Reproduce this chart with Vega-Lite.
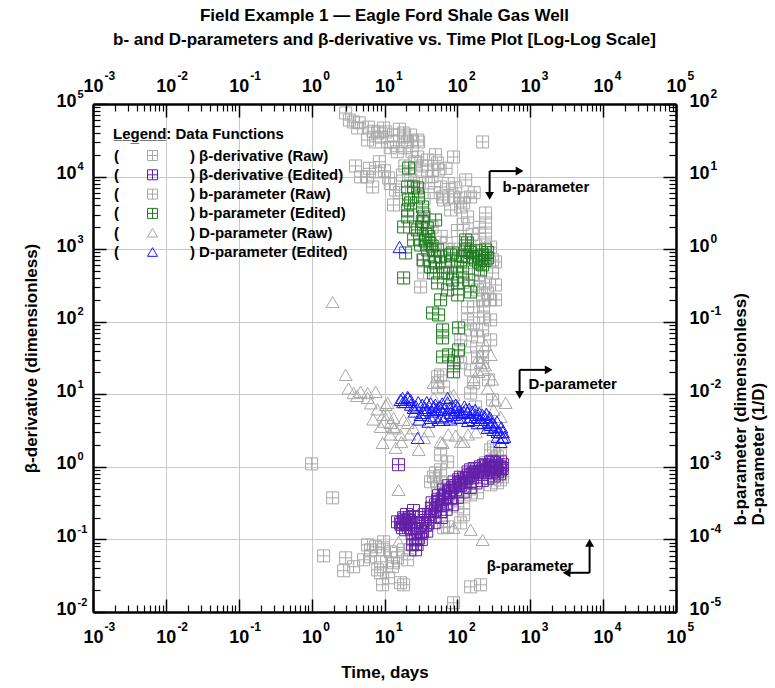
{
 "$schema": "https://vega.github.io/schema/vega-lite/v6.json",
 "width": 583, "height": 508,
 "autosize": {"type": "none"},
 "padding": {"left": 93, "top": 104, "right": 99, "bottom": 76},
 "background": "white",
 "title": {"text": ["Field Example 1 — Eagle Ford Shale Gas Well", "b- and D-parameters and β-derivative vs. Time Plot [Log-Log Scale]"], "fontSize": 17, "fontWeight": "bold", "lineHeight": 24, "offset": 20, "color": "#000", "font": "Liberation Sans", "anchor": "middle"},
 "config": {"view": {"stroke": null}, "font": "Liberation Sans", "axis": {"labelColor": "#000", "titleColor": "#000", "titleFontSize": 17, "titleFontWeight": "bold", "labelFlush": false, "labelOverlap": false, "labelBound": false}},
 "datasets": {
  "bR": [{"t":1.0,"v":1.1},{"t":1.94,"v":0.374},{"t":1.46,"v":0.0594},{"t":2.75,"v":0.037},{"t":2.93,"v":0.0558},{"t":3.77,"v":0.042},{"t":5.17,"v":0.0524},{"t":6.44,"v":0.0719},{"t":9.73,"v":0.0719},{"t":5.86,"v":0.0843},{"t":7.55,"v":0.0791},{"t":9.73,"v":0.0927},{"t":12.1,"v":0.0675},{"t":15.1,"v":0.0558},{"t":18.3,"v":0.0719},{"t":6.44,"v":0.0576},{"t":8.85,"v":0.0491},{"t":12.9,"v":0.042},{"t":8.85,"v":0.0347},{"t":11.4,"v":0.0296},{"t":9.42,"v":0.0237},{"t":18.3,"v":0.0237},{"t":8.05,"v":0.0381},{"t":152,"v":0.0222},{"t":208,"v":0.0237},{"t":88.7,"v":0.0134},{"t":58.9,"v":0.602},{"t":73.5,"v":0.319},{"t":101,"v":0.281},{"t":122,"v":0.218},{"t":73.5,"v":0.149},{"t":111,"v":0.169},{"t":392,"v":0.662},{"t":286,"v":0.565},{"t":50.3,"v":0.827},{"t":42.9,"v":0.622},{"t":58.9,"v":0.91},{"t":64.7,"v":0.145},{"t":122,"v":0.319},{"t":189,"v":0.439},{"t":356,"v":0.602},{"t":417,"v":0.728},{"t":47.2,"v":0.728},{"t":53.6,"v":0.531},{"t":58.9,"v":1.46},{"t":73.5,"v":1.17},{"t":286,"v":1.71},{"t":392,"v":1.46},{"t":13.3,"v":0.0476},{"t":20.8,"v":0.0524},{"t":22.8,"v":0.0719},{"t":25.1,"v":0.0987},{"t":16.6,"v":0.0253},{"t":244,"v":1.14},{"t":314,"v":0.91},{"t":152,"v":0.411},{"t":94.6,"v":0.482},{"t":314,"v":1.88},{"t":356,"v":1.37}],
  "bE": [{"t":15.6,"v":1.07},{"t":16.6,"v":0.169},{"t":18.3,"v":0.199},{"t":17.7,"v":0.145},{"t":19.5,"v":0.159},{"t":21.4,"v":0.186},{"t":22.8,"v":0.145},{"t":26.7,"v":0.0719},{"t":26.7,"v":0.0987},{"t":29.4,"v":0.105},{"t":31.3,"v":0.127},{"t":33.3,"v":0.127},{"t":36.6,"v":0.159},{"t":39.1,"v":0.169},{"t":42.9,"v":0.205},{"t":45.7,"v":0.24},{"t":50.3,"v":0.256},{"t":53.6,"v":0.351},{"t":58.9,"v":0.24},{"t":62.7,"v":0.3},{"t":68.9,"v":0.386},{"t":75.8,"v":0.439},{"t":80.7,"v":0.374},{"t":86.1,"v":0.514},{"t":94.6,"v":0.482},{"t":104,"v":0.662},{"t":111,"v":0.565},{"t":122,"v":0.705},{"t":130,"v":0.602},{"t":143,"v":0.776},{"t":152,"v":0.91},{"t":162,"v":0.705},{"t":178,"v":0.853},{"t":189,"v":0.827},{"t":208,"v":1.0},{"t":229,"v":0.91},{"t":244,"v":1.07},{"t":260,"v":0.827},{"t":286,"v":1.17},{"t":314,"v":1.14},{"t":334,"v":0.969},{"t":356,"v":0.853},{"t":392,"v":1.17},{"t":392,"v":0.91},{"t":417,"v":1.07},{"t":24.3,"v":0.0843},{"t":19.5,"v":0.136},{"t":15.1,"v":0.175},{"t":20,"v":0.22},{"t":25,"v":0.25},{"t":30,"v":0.2},{"t":35,"v":0.22},{"t":45,"v":0.32},{"t":55,"v":0.4},{"t":65,"v":0.48},{"t":75,"v":0.55},{"t":90,"v":0.62},{"t":110,"v":0.72},{"t":140,"v":0.85},{"t":170,"v":0.95},{"t":230,"v":1.05},{"t":270,"v":1.0},{"t":300,"v":1.2},{"t":28,"v":0.085},{"t":32,"v":0.1},{"t":38,"v":0.13},{"t":48,"v":0.17},{"t":60,"v":0.2},{"t":70,"v":0.26},{"t":85,"v":0.3},{"t":100,"v":0.38},{"t":120,"v":0.45},{"t":150,"v":0.52},{"t":180,"v":0.6},{"t":220,"v":0.65},{"t":260,"v":0.7},{"t":320,"v":0.75},{"t":380,"v":0.8},{"t":17,"v":0.16},{"t":18,"v":0.175},{"t":19,"v":0.19},{"t":20,"v":0.17},{"t":22,"v":0.2},{"t":23,"v":0.16},{"t":24,"v":0.12},{"t":26,"v":0.14},{"t":27,"v":0.17},{"t":29,"v":0.12},{"t":34,"v":0.17},{"t":40,"v":0.22},{"t":44,"v":0.27},{"t":50,"v":0.3},{"t":56,"v":0.33},{"t":62,"v":0.36},{"t":68,"v":0.42},{"t":80,"v":0.47},{"t":95,"v":0.55},{"t":105,"v":0.6},{"t":115,"v":0.62},{"t":135,"v":0.7},{"t":160,"v":0.8},{"t":200,"v":0.85},{"t":240,"v":0.9},{"t":280,"v":0.95},{"t":340,"v":1.05},{"t":380,"v":1.0},{"t":410,"v":0.95},{"t":300,"v":0.85}],
  "pR": [{"t":2.93,"v":75.2},{"t":3.77,"v":56.5},{"t":4.28,"v":46.7},{"t":5.86,"v":31.9},{"t":7.55,"v":30.0},{"t":8.05,"v":39.9},{"t":10.4,"v":41.2},{"t":9.73,"v":46.7},{"t":13.3,"v":37.4},{"t":13.3,"v":30.0},{"t":18.3,"v":39.9},{"t":18.3,"v":35.1},{"t":20.8,"v":30.0},{"t":22.8,"v":37.4},{"t":28.5,"v":31.9},{"t":29.4,"v":30.0},{"t":28.5,"v":18.6},{"t":39.1,"v":16.9},{"t":53.6,"v":15.4},{"t":55.2,"v":12.3},{"t":88.7,"v":18.6},{"t":222,"v":30.0},{"t":5.86,"v":9.89},{"t":4.7,"v":9.89},{"t":7.55,"v":11.6},{"t":6.87,"v":7.19},{"t":11.4,"v":9.57},{"t":17.7,"v":10.5},{"t":26.7,"v":12.3},{"t":39.1,"v":12.3},{"t":13.3,"v":4.06},{"t":14.2,"v":6.53},{"t":40.3,"v":8.17},{"t":58.9,"v":7.19},{"t":62.7,"v":5.23},{"t":88.7,"v":5.23},{"t":111,"v":5.07},{"t":152,"v":5.23},{"t":80.7,"v":3.47},{"t":111,"v":3.81},{"t":138,"v":2.78},{"t":244,"v":3.15},{"t":244,"v":2.29},{"t":244,"v":1.67},{"t":244,"v":1.22},{"t":64.7,"v":4.76},{"t":122,"v":4.33},{"t":31.3,"v":0.301},{"t":34.4,"v":0.47},{"t":189,"v":0.274},{"t":260,"v":0.249},{"t":229,"v":0.16},{"t":229,"v":0.116},{"t":152,"v":0.0771},{"t":189,"v":0.0618},{"t":152,"v":0.045},{"t":189,"v":0.0327},{"t":111,"v":0.0271},{"t":286,"v":1.07},{"t":304,"v":0.71},{"t":304,"v":0.47},{"t":138,"v":0.16},{"t":138,"v":0.106},{"t":111,"v":0.0561},{"t":152,"v":0.0217},{"t":167,"v":0.0144},{"t":222,"v":0.0384},{"t":222,"v":0.0271},{"t":167,"v":0.16},{"t":222,"v":0.2},{"t":167,"v":0.0962},{"t":222,"v":0.0771},{"t":53.6,"v":0.0174},{"t":64.7,"v":0.0126},{"t":53.6,"v":0.0126},{"t":101,"v":0.0327},{"t":58.9,"v":0.0185},{"t":152,"v":0.0104},{"t":178,"v":0.0067},{"t":33.3,"v":0.71},{"t":286,"v":0.2},{"t":286,"v":0.106},{"t":286,"v":0.0561},{"t":268,"v":0.0158},{"t":304,"v":0.00837},{"t":244,"v":0.342},{"t":195,"v":0.441},{"t":334,"v":0.321},{"t":334,"v":0.2},{"t":334,"v":0.667},{"t":45,"v":2.0},{"t":60,"v":1.5},{"t":70,"v":1.2},{"t":90,"v":1.0},{"t":100,"v":1.8},{"t":120,"v":2.2},{"t":160,"v":1.6},{"t":180,"v":1.1},{"t":200,"v":2.0},{"t":35,"v":3.0},{"t":50,"v":1.0},{"t":80,"v":0.6},{"t":120,"v":0.35},{"t":160,"v":0.45},{"t":200,"v":0.3},{"t":3.3,"v":60},{"t":4.5,"v":55},{"t":6,"v":48},{"t":7,"v":42},{"t":9,"v":35},{"t":11,"v":30},{"t":12,"v":25},{"t":15,"v":22},{"t":16,"v":45},{"t":19,"v":25},{"t":24,"v":22},{"t":26,"v":16},{"t":33,"v":14},{"t":45,"v":10},{"t":50,"v":20},{"t":70,"v":13},{"t":4,"v":14},{"t":6.2,"v":13},{"t":8.5,"v":16},{"t":10,"v":12},{"t":12,"v":8},{"t":16,"v":6},{"t":19,"v":14},{"t":23,"v":9},{"t":30,"v":8},{"t":35,"v":5},{"t":48,"v":6},{"t":75,"v":8},{"t":95,"v":7},{"t":130,"v":9},{"t":170,"v":6}],
  "pE": [{"t":21.4,"v":13.1},{"t":20.8,"v":7.19},{"t":25.1,"v":7.19},{"t":28.5,"v":6.97},{"t":29.4,"v":5.23},{"t":21.4,"v":4.76},{"t":22.8,"v":4.33},{"t":20.8,"v":3.47},{"t":33.3,"v":3.81},{"t":34.4,"v":2.78},{"t":20.8,"v":2.78},{"t":50.3,"v":2.52},{"t":18.3,"v":2.02},{"t":26.7,"v":2.02},{"t":39.1,"v":1.96},{"t":130,"v":1.34},{"t":138,"v":1.22},{"t":19.5,"v":0.887},{"t":18.3,"v":0.401},{"t":39.1,"v":0.975},{"t":53.6,"v":0.975},{"t":80.7,"v":0.832},{"t":86.1,"v":0.887},{"t":58.9,"v":0.782},{"t":130,"v":0.975},{"t":222,"v":0.832},{"t":222,"v":0.606},{"t":178,"v":0.71},{"t":138,"v":0.782},{"t":42.9,"v":0.569},{"t":50.3,"v":0.646},{"t":64.7,"v":0.47},{"t":47.2,"v":0.47},{"t":101,"v":0.569},{"t":53.6,"v":0.342},{"t":73.5,"v":0.47},{"t":101,"v":0.342},{"t":143,"v":0.376},{"t":152,"v":0.257},{"t":101,"v":0.234},{"t":73.5,"v":0.274},{"t":58.9,"v":0.2},{"t":45.7,"v":0.132},{"t":55.2,"v":0.124},{"t":104,"v":0.0822},{"t":62.7,"v":0.0771},{"t":62.7,"v":0.0598},{"t":104,"v":0.0409},{"t":75.8,"v":0.0349},{"t":62.7,"v":0.0327},{"t":88.7,"v":0.0271},{"t":88.7,"v":0.0204},{"t":111,"v":0.667},{"t":162,"v":0.757},{"t":195,"v":0.667},{"t":244,"v":0.975},{"t":260,"v":0.757},{"t":208,"v":0.517},{"t":118,"v":0.485},{"t":86.1,"v":0.376},{"t":68.9,"v":0.667},{"t":25.1,"v":1.34},{"t":31.3,"v":1.14},{"t":34.4,"v":0.71},{"t":28.5,"v":1.84},{"t":36,"v":1.3},{"t":45,"v":1.1},{"t":40,"v":1.5},{"t":37,"v":1.6},{"t":42,"v":1.2},{"t":48,"v":0.8},{"t":33,"v":2.4},{"t":150,"v":0.9},{"t":180,"v":0.95},{"t":200,"v":0.8},{"t":240,"v":0.7},{"t":260,"v":0.9},{"t":120,"v":0.8}],
  "dR": [{"t":1.94,"v":0.187},{"t":2.93,"v":0.0185},{"t":3.77,"v":0.0104},{"t":4.7,"v":0.0108},{"t":5.86,"v":0.00891},{"t":7.55,"v":0.0108},{"t":10.4,"v":0.00714},{"t":11.0,"v":0.0052},{"t":8.85,"v":0.00356},{"t":13.3,"v":0.00356},{"t":16.6,"v":0.00276},{"t":9.42,"v":0.00214},{"t":14.2,"v":0.00183},{"t":29.4,"v":0.00171},{"t":20.8,"v":0.00404},{"t":47.2,"v":0.00891},{"t":88.7,"v":0.00982},{"t":62.7,"v":0.00214},{"t":122,"v":0.00221},{"t":286,"v":0.00356},{"t":459,"v":0.00762},{"t":392,"v":0.00489},{"t":229,"v":0.0217},{"t":47.2,"v":0.0144},{"t":13.3,"v":0.00473},{"t":5.86,"v":0.0104},{"t":9.73,"v":0.0052},{"t":12.1,"v":0.00404},{"t":18.3,"v":0.00444},{"t":58.9,"v":0.00221},{"t":111,"v":0.00221},{"t":80.7,"v":0.00921},{"t":55.2,"v":0.0144},{"t":195,"v":0.0204},{"t":314,"v":0.0061},{"t":15.6,"v":0.000482},{"t":15.6,"v":0.0000927},{"t":88.7,"v":0.000145},{"t":152,"v":0.000136},{"t":222,"v":0.0000987},{"t":167,"v":0.0158},{"t":208,"v":0.0271},{"t":244,"v":0.0479},{"t":286,"v":0.0349},{"t":195,"v":0.0317},{"t":11.0,"v":0.00762},{"t":3.2,"v":0.012},{"t":4.2,"v":0.0095},{"t":6.5,"v":0.0075},{"t":7,"v":0.0045},{"t":8,"v":0.0062},{"t":10,"v":0.0042},{"t":12,"v":0.0028},{"t":14,"v":0.0034},{"t":17,"v":0.0022},{"t":22,"v":0.0028},{"t":25,"v":0.0034},{"t":35,"v":0.0025},{"t":40,"v":0.0031},{"t":75,"v":0.0028},{"t":95,"v":0.0027},{"t":140,"v":0.0028},{"t":180,"v":0.003},{"t":250,"v":0.0052},{"t":330,"v":0.0082},{"t":260,"v":0.012},{"t":300,"v":0.016},{"t":240,"v":0.025}],
  "dE": [{"t":16.1,"v":1.07},{"t":17.7,"v":0.00891},{"t":16.6,"v":0.00837},{"t":20.8,"v":0.00921},{"t":25.1,"v":0.0065},{"t":28.5,"v":0.00251},{"t":34.4,"v":0.00555},{"t":39.1,"v":0.0061},{"t":47.2,"v":0.0067},{"t":55.2,"v":0.00444},{"t":73.5,"v":0.00762},{"t":73.5,"v":0.00891},{"t":80.7,"v":0.00555},{"t":101,"v":0.0067},{"t":122,"v":0.00572},{"t":152,"v":0.00489},{"t":189,"v":0.00473},{"t":229,"v":0.00404},{"t":286,"v":0.00379},{"t":356,"v":0.00303},{"t":417,"v":0.00251},{"t":356,"v":0.00259},{"t":392,"v":0.00221},{"t":31.3,"v":0.0052},{"t":42.9,"v":0.00473},{"t":58.9,"v":0.0061},{"t":94.6,"v":0.0061},{"t":64.7,"v":0.00444},{"t":111,"v":0.00473},{"t":138,"v":0.00555},{"t":167,"v":0.00444},{"t":208,"v":0.00444},{"t":260,"v":0.00344},{"t":314,"v":0.00323},{"t":22.8,"v":0.00837},{"t":19.5,"v":0.00786},{"t":36,"v":0.0065},{"t":45,"v":0.0058},{"t":50,"v":0.0072},{"t":62,"v":0.0075},{"t":85,"v":0.0068},{"t":90,"v":0.0052},{"t":130,"v":0.0062},{"t":160,"v":0.0058},{"t":180,"v":0.0052},{"t":240,"v":0.0048},{"t":270,"v":0.0042},{"t":300,"v":0.004},{"t":330,"v":0.0036},{"t":380,"v":0.003},{"t":26,"v":0.0058},{"t":30,"v":0.0045},{"t":40,"v":0.0042},{"t":48,"v":0.005},{"t":70,"v":0.005},{"t":115,"v":0.0055},{"t":18,"v":0.0078},{"t":21,"v":0.0088},{"t":23,"v":0.0072},{"t":27,"v":0.0068},{"t":29,"v":0.0078},{"t":33,"v":0.0072},{"t":38,"v":0.0078},{"t":43,"v":0.0075},{"t":52,"v":0.0062},{"t":57,"v":0.0068},{"t":66,"v":0.0062},{"t":78,"v":0.0065},{"t":95,"v":0.0072},{"t":105,"v":0.0058},{"t":125,"v":0.0068},{"t":145,"v":0.0063},{"t":175,"v":0.0061},{"t":200,"v":0.0055},{"t":220,"v":0.0052},{"t":250,"v":0.0054},{"t":280,"v":0.0048},{"t":350,"v":0.0042},{"t":420,"v":0.003},{"t":440,"v":0.0026},{"t":400,"v":0.0035},{"t":60,"v":0.0048},{"t":80,"v":0.0045},{"t":100,"v":0.0048},{"t":140,"v":0.0043},{"t":190,"v":0.004}],
  "notes": [{"t":417,"v":7190,"txt":"b-parameter"},{"t":949,"v":13.9,"txt":"D-parameter"},{"t":252,"v":0.0433,"txt":"β-parameter"}],
  "arrows": [{"t":277,"v":11900,"t2":714,"v2":11900},{"t":277,"v":11900,"t2":277,"v2":5410},{"t":714,"v":21.7,"t2":1790,"v2":21.7},{"t":714,"v":21.7,"t2":714,"v2":9.82},{"t":6520,"v":0.0347,"t2":3150,"v2":0.0347},{"t":6520,"v":0.0347,"t2":6520,"v2":0.0898}],
  "heads": [{"t":714,"v":11900,"dir":"right"},{"t":277,"v":5410,"dir":"down"},{"t":1790,"v":21.7,"dir":"right"},{"t":714,"v":9.82,"dir":"down"},{"t":3150,"v":0.0347,"dir":"left"},{"t":6520,"v":0.0898,"dir":"up"}]
 },
 "resolve": {"scale": {"y": "independent"}, "axis": {"x": "independent", "y": "independent"}},
 "layer": [
  {"data": {"name": "bR"}, "mark": {"type": "point", "filled": false, "size": 144, "strokeWidth": 1, "opacity": 1},
   "encoding": {
    "x": {"field": "t", "type": "quantitative", "scale": {"type": "log", "domain": [0.001, 100000], "nice": false},
      "axis": {"orient": "bottom", "values": [0.001,0.01,0.1,1,10,100,1000,10000,100000], "labels": false, "grid": false, "domain": true, "domainColor": "#000", "domainWidth": 2.5, "ticks": true, "tickColor": "#000", "tickWidth": 1.5, "tickSize": -13, "title": null, "zindex": 2}},
    "y": {"field": "v", "type": "quantitative", "scale": {"type": "log", "domain": [0.01, 100000], "nice": false},
      "axis": {"orient": "left", "values": [0.01,0.1,1,10,100,1000,10000,100000], "labels": false, "grid": false, "domain": true, "domainColor": "#000", "domainWidth": 2.5, "ticks": true, "tickColor": "#000", "tickWidth": 1.5, "tickSize": -13, "title": null, "zindex": 2}},
    "color": {"datum": "β-derivative (Raw)", "scale": {"domain": ["β-derivative (Raw)","β-derivative (Edited)","b-parameter (Raw)","b-parameter (Edited)","D-parameter (Raw)","D-parameter (Edited)"], "range": ["#a8a8a8","#6420a8","#a8a8a8","#1e7b1e","#a8a8a8","#1616ff"]},
      "legend": {"orient": "none", "legendX": 20, "legendY": 23, "padding": 0, "title": "L\u0332e\u0332g\u0332e\u0332n\u0332d\u0332: Data Functions", "titleFontSize": 15, "titleFontWeight": "bold", "titleColor": "#000", "titlePadding": 6, "titleAnchor": "start", "labelFontSize": 15, "labelFontWeight": "bold", "labelColor": "#000", "labelLimit": 400, "symbolSize": 100, "symbolStrokeWidth": 1, "symbolOffset": 32, "labelOffset": -46, "rowPadding": 3.3, "labelExpr": "'(\u2007\u2007\u2007\u2007\u2007\u2007\u2007\u2007\u00a0) ' + datum.label"}},
    "shape": {"datum": "β-derivative (Raw)", "scale": {"domain": ["β-derivative (Raw)","β-derivative (Edited)","b-parameter (Raw)","b-parameter (Edited)","D-parameter (Raw)","D-parameter (Edited)"], "range": ["M-1,-1H1V1H-1Z M0,-1V1 M-1,0H1","M-1,-1H1V1H-1Z M0,-1V1 M-1,0H1","M-1,-1H1V1H-1Z M0,-1V1 M-1,0H1","M-1,-1H1V1H-1Z M0,-1V1 M-1,0H1","triangle-up","triangle-up"]},
      "legend": {"orient": "none", "legendX": 20, "legendY": 23, "padding": 0, "title": "L\u0332e\u0332g\u0332e\u0332n\u0332d\u0332: Data Functions", "titleFontSize": 15, "titleFontWeight": "bold", "titleColor": "#000", "titlePadding": 6, "titleAnchor": "start", "labelFontSize": 15, "labelFontWeight": "bold", "labelColor": "#000", "labelLimit": 400, "symbolSize": 100, "symbolStrokeWidth": 1, "symbolOffset": 32, "labelOffset": -46, "rowPadding": 3.3, "labelExpr": "'(\u2007\u2007\u2007\u2007\u2007\u2007\u2007\u2007\u00a0) ' + datum.label"}}
   }},
  {"data": {"name": "pR"}, "mark": {"type": "point", "filled": false, "size": 144, "strokeWidth": 1, "opacity": 1},
   "encoding": {
    "x": {"field": "t", "type": "quantitative", "scale": {"type": "log", "domain": [0.001, 100000], "nice": false},
      "axis": {"orient": "top", "values": [0.001,0.01,0.1,1,10,100,1000,10000,100000], "labels": false, "grid": false, "domain": true, "domainColor": "#000", "domainWidth": 2.5, "ticks": true, "tickColor": "#000", "tickWidth": 1.5, "tickSize": -13, "title": null, "zindex": 2}},
    "y": {"field": "v", "type": "quantitative", "scale": {"type": "log", "domain": [0.00001, 100], "nice": false},
      "axis": {"orient": "right", "values": [0.00001,0.0001,0.001,0.01,0.1,1,10,100], "labels": false, "grid": false, "domain": true, "domainColor": "#000", "domainWidth": 2.5, "ticks": true, "tickColor": "#000", "tickWidth": 1.5, "tickSize": -13, "title": null, "zindex": 2}},
    "color": {"datum": "b-parameter (Raw)"},
    "shape": {"datum": "b-parameter (Raw)"}
   }},
  {"data": {"name": "dR"}, "mark": {"type": "point", "filled": false, "size": 169, "strokeWidth": 1, "opacity": 1},
   "encoding": {
    "x": {"field": "t", "type": "quantitative", "scale": {"type": "log", "domain": [0.001, 100000], "nice": false}, "axis": null},
    "y": {"field": "v", "type": "quantitative", "scale": {"type": "log", "domain": [0.00001, 100], "nice": false}, "axis": null},
    "color": {"datum": "D-parameter (Raw)"},
    "shape": {"datum": "D-parameter (Raw)"}
   }},
  {"data": {"name": "bE"}, "mark": {"type": "point", "filled": false, "size": 144, "strokeWidth": 1, "opacity": 1},
   "encoding": {
    "x": {"field": "t", "type": "quantitative", "scale": {"type": "log", "domain": [0.001, 100000], "nice": false},
      "axis": {"orient": "bottom", "values": [0.002,0.003,0.004,0.005,0.006,0.007,0.008,0.009,0.02,0.03,0.04,0.05,0.06,0.07,0.08,0.09,0.2,0.3,0.4,0.5,0.6,0.7,0.8,0.9,2,3,4,5,6,7,8,9,20,30,40,50,60,70,80,90,200,300,400,500,600,700,800,900,2000,3000,4000,5000,6000,7000,8000,9000,20000,30000,40000,50000,60000,70000,80000,90000], "labels": false, "grid": false, "domain": false, "ticks": true, "tickColor": "#000", "tickWidth": 1.2, "tickSize": -7, "title": null, "zindex": 2}},
    "y": {"field": "v", "type": "quantitative", "scale": {"type": "log", "domain": [0.01, 100000], "nice": false},
      "axis": {"orient": "left", "values": [0.02,0.03,0.04,0.05,0.06,0.07,0.08,0.09,0.2,0.3,0.4,0.5,0.6,0.7,0.8,0.9,2,3,4,5,6,7,8,9,20,30,40,50,60,70,80,90,200,300,400,500,600,700,800,900,2000,3000,4000,5000,6000,7000,8000,9000,20000,30000,40000,50000,60000,70000,80000,90000], "labels": false, "grid": false, "domain": false, "ticks": true, "tickColor": "#000", "tickWidth": 1.2, "tickSize": -7, "title": null, "zindex": 2}},
    "color": {"datum": "β-derivative (Edited)"},
    "shape": {"datum": "β-derivative (Edited)"}
   }},
  {"data": {"name": "pE"}, "mark": {"type": "point", "filled": false, "size": 144, "strokeWidth": 1, "opacity": 1},
   "encoding": {
    "x": {"field": "t", "type": "quantitative", "scale": {"type": "log", "domain": [0.001, 100000], "nice": false},
      "axis": {"orient": "top", "values": [0.002,0.003,0.004,0.005,0.006,0.007,0.008,0.009,0.02,0.03,0.04,0.05,0.06,0.07,0.08,0.09,0.2,0.3,0.4,0.5,0.6,0.7,0.8,0.9,2,3,4,5,6,7,8,9,20,30,40,50,60,70,80,90,200,300,400,500,600,700,800,900,2000,3000,4000,5000,6000,7000,8000,9000,20000,30000,40000,50000,60000,70000,80000,90000], "labels": false, "grid": false, "domain": false, "ticks": true, "tickColor": "#000", "tickWidth": 1.2, "tickSize": -7, "title": null, "zindex": 2}},
    "y": {"field": "v", "type": "quantitative", "scale": {"type": "log", "domain": [0.00001, 100], "nice": false},
      "axis": {"orient": "right", "values": [0.00002,0.00003,0.00004,0.00005,0.00006,0.00007,0.00008,0.00009,0.0002,0.0003,0.0004,0.0005,0.0006,0.0007,0.0008,0.0009,0.002,0.003,0.004,0.005,0.006,0.007,0.008,0.009,0.02,0.03,0.04,0.05,0.06,0.07,0.08,0.09,0.2,0.3,0.4,0.5,0.6,0.7,0.8,0.9,2,3,4,5,6,7,8,9,20,30,40,50,60,70,80,90], "labels": false, "grid": false, "domain": false, "ticks": true, "tickColor": "#000", "tickWidth": 1.2, "tickSize": -7, "title": null, "zindex": 2}},
    "color": {"datum": "b-parameter (Edited)"},
    "shape": {"datum": "b-parameter (Edited)"}
   }},
  {"data": {"name": "dE"}, "mark": {"type": "point", "filled": false, "size": 169, "strokeWidth": 1, "opacity": 1},
   "encoding": {
    "x": {"field": "t", "type": "quantitative", "scale": {"type": "log", "domain": [0.001, 100000], "nice": false}, "axis": null},
    "y": {"field": "v", "type": "quantitative", "scale": {"type": "log", "domain": [0.00001, 100], "nice": false}, "axis": null},
    "color": {"datum": "D-parameter (Edited)"},
    "shape": {"datum": "D-parameter (Edited)"}
   }},
  {"data": {"name": "bR"}, "mark": {"type": "point", "opacity": 0},
   "encoding": {
    "x": {"field": "t", "type": "quantitative", "scale": {"type": "log", "domain": [0.001, 100000], "nice": false},
      "axis": {"orient": "bottom", "values": [0.001,0.01,0.1,1,10,100,1000,10000,100000], "labelExpr": "'10'", "labelFontSize": 18, "labelFontWeight": "bold", "labelBaseline": "middle", "labelAlign": "center", "labelPadding": 25, "ticks": false, "domain": false, "grid": true, "gridColor": "#c8c8c8", "gridWidth": 1, "title": "Time, days", "titleFontSize": 17, "titleFontWeight": "bold", "titleY": 60, "titleBaseline": "middle", "zindex": 0}},
    "y": {"field": "v", "type": "quantitative", "scale": {"type": "log", "domain": [0.01, 100000], "nice": false},
      "axis": {"orient": "left", "values": [0.01,0.1,1,10,100,1000,10000,100000], "labelExpr": "'10'", "labelFontSize": 18, "labelFontWeight": "bold", "labelBaseline": "middle", "labelAlign": "right", "labelPadding": 17, "labelOffset": -3, "ticks": false, "domain": false, "grid": true, "gridColor": "#c8c8c8", "gridWidth": 1, "title": "β-derivative (dimensionless)", "titleFontSize": 17, "titleFontWeight": "bold", "titleX": -62, "titleY": 254, "titleAngle": 270, "titleBaseline": "middle", "titleAlign": "center", "zindex": 0}}
   }},
  {"data": {"name": "bR"}, "mark": {"type": "point", "opacity": 0},
   "encoding": {
    "x": {"field": "t", "type": "quantitative", "scale": {"type": "log", "domain": [0.001, 100000], "nice": false},
      "axis": {"orient": "bottom", "values": [0.001,0.01,0.1,1,10,100,1000,10000,100000], "labelExpr": "'' + round(log(datum.value)/LN10)", "labelFontSize": 12, "labelFontWeight": "bold", "labelBaseline": "middle", "labelAlign": "left", "labelPadding": 14, "labelOffset": 11, "ticks": false, "domain": false, "grid": false, "title": null, "zindex": 0}},
    "y": {"field": "v", "type": "quantitative", "scale": {"type": "log", "domain": [0.01, 100000], "nice": false},
      "axis": {"orient": "left", "values": [0.01,0.1,1,10,100,1000,10000,100000], "labelExpr": "'' + round(log(datum.value)/LN10)", "labelFontSize": 11, "labelFontWeight": "bold", "labelBaseline": "middle", "labelAlign": "left", "labelPadding": 16, "labelOffset": -10, "ticks": false, "domain": false, "grid": false, "title": null, "zindex": 0}}
   }},
  {"data": {"name": "pR"}, "mark": {"type": "point", "opacity": 0},
   "encoding": {
    "x": {"field": "t", "type": "quantitative", "scale": {"type": "log", "domain": [0.001, 100000], "nice": false},
      "axis": {"orient": "top", "values": [0.001,0.01,0.1,1,10,100,1000,10000,100000], "labelExpr": "'10'", "labelFontSize": 18, "labelFontWeight": "bold", "labelBaseline": "middle", "labelAlign": "center", "labelPadding": 18, "ticks": false, "domain": false, "grid": false, "title": null, "zindex": 0}},
    "y": {"field": "v", "type": "quantitative", "scale": {"type": "log", "domain": [0.00001, 100], "nice": false},
      "axis": {"orient": "right", "values": [0.00001,0.0001,0.001,0.01,0.1,1,10,100], "labelExpr": "'10'", "labelFontSize": 18, "labelFontWeight": "bold", "labelBaseline": "middle", "labelAlign": "left", "labelPadding": 13, "labelOffset": -3, "ticks": false, "domain": false, "grid": false, "title": ["b-parameter (dimensionless)", "D-parameter (1/D)"], "titleFontSize": 17, "titleFontWeight": "bold", "titleLineHeight": 18, "titleX": 56, "titleY": 421, "titleAngle": 270, "titleAlign": "left", "titleBaseline": "top", "zindex": 0}}
   }},
  {"data": {"name": "pR"}, "mark": {"type": "point", "opacity": 0},
   "encoding": {
    "x": {"field": "t", "type": "quantitative", "scale": {"type": "log", "domain": [0.001, 100000], "nice": false},
      "axis": {"orient": "top", "values": [0.001,0.01,0.1,1,10,100,1000,10000,100000], "labelExpr": "'' + round(log(datum.value)/LN10)", "labelFontSize": 12, "labelFontWeight": "bold", "labelBaseline": "middle", "labelAlign": "left", "labelPadding": 29, "labelOffset": 11, "ticks": false, "domain": false, "grid": false, "title": null, "zindex": 0}},
    "y": {"field": "v", "type": "quantitative", "scale": {"type": "log", "domain": [0.00001, 100], "nice": false},
      "axis": {"orient": "right", "values": [0.00001,0.0001,0.001,0.01,0.1,1,10,100], "labelExpr": "'' + round(log(datum.value)/LN10)", "labelFontSize": 12, "labelFontWeight": "bold", "labelBaseline": "middle", "labelAlign": "left", "labelPadding": 34, "labelOffset": -11, "ticks": false, "domain": false, "grid": false, "title": null, "zindex": 0}}
   }},
  {"data": {"name": "notes"}, "mark": {"type": "text", "align": "left", "baseline": "middle", "fontSize": 15, "fontWeight": "bold", "color": "#000"},
   "encoding": {
    "x": {"field": "t", "type": "quantitative", "scale": {"type": "log", "domain": [0.001, 100000], "nice": false}, "axis": null},
    "y": {"field": "v", "type": "quantitative", "scale": {"type": "log", "domain": [0.01, 100000], "nice": false}, "axis": null},
    "text": {"field": "txt"}
   }},
  {"data": {"name": "arrows"}, "mark": {"type": "rule", "strokeWidth": 2, "color": "#000"},
   "encoding": {
    "x": {"field": "t", "type": "quantitative", "scale": {"type": "log", "domain": [0.001, 100000], "nice": false}, "axis": null},
    "x2": {"field": "t2"},
    "y": {"field": "v", "type": "quantitative", "scale": {"type": "log", "domain": [0.01, 100000], "nice": false}, "axis": null},
    "y2": {"field": "v2"}
   }},
  {"data": {"name": "heads"}, "transform": [{"filter": "datum.dir == 'right'"}], "mark": {"type": "point", "shape": "triangle-right", "filled": true, "color": "#000", "size": 80, "opacity": 1},
   "encoding": {
    "x": {"field": "t", "type": "quantitative", "scale": {"type": "log", "domain": [0.001, 100000], "nice": false}, "axis": null},
    "y": {"field": "v", "type": "quantitative", "scale": {"type": "log", "domain": [0.01, 100000], "nice": false}, "axis": null}
   }},
  {"data": {"name": "heads"}, "transform": [{"filter": "datum.dir == 'down'"}], "mark": {"type": "point", "shape": "triangle-down", "filled": true, "color": "#000", "size": 80, "opacity": 1},
   "encoding": {
    "x": {"field": "t", "type": "quantitative", "scale": {"type": "log", "domain": [0.001, 100000], "nice": false}, "axis": null},
    "y": {"field": "v", "type": "quantitative", "scale": {"type": "log", "domain": [0.01, 100000], "nice": false}, "axis": null}
   }},
  {"data": {"name": "heads"}, "transform": [{"filter": "datum.dir == 'left'"}], "mark": {"type": "point", "shape": "triangle-left", "filled": true, "color": "#000", "size": 80, "opacity": 1},
   "encoding": {
    "x": {"field": "t", "type": "quantitative", "scale": {"type": "log", "domain": [0.001, 100000], "nice": false}, "axis": null},
    "y": {"field": "v", "type": "quantitative", "scale": {"type": "log", "domain": [0.01, 100000], "nice": false}, "axis": null}
   }},
  {"data": {"name": "heads"}, "transform": [{"filter": "datum.dir == 'up'"}], "mark": {"type": "point", "shape": "triangle-up", "filled": true, "color": "#000", "size": 80, "opacity": 1},
   "encoding": {
    "x": {"field": "t", "type": "quantitative", "scale": {"type": "log", "domain": [0.001, 100000], "nice": false}, "axis": null},
    "y": {"field": "v", "type": "quantitative", "scale": {"type": "log", "domain": [0.01, 100000], "nice": false}, "axis": null}
   }}
 ]
}
